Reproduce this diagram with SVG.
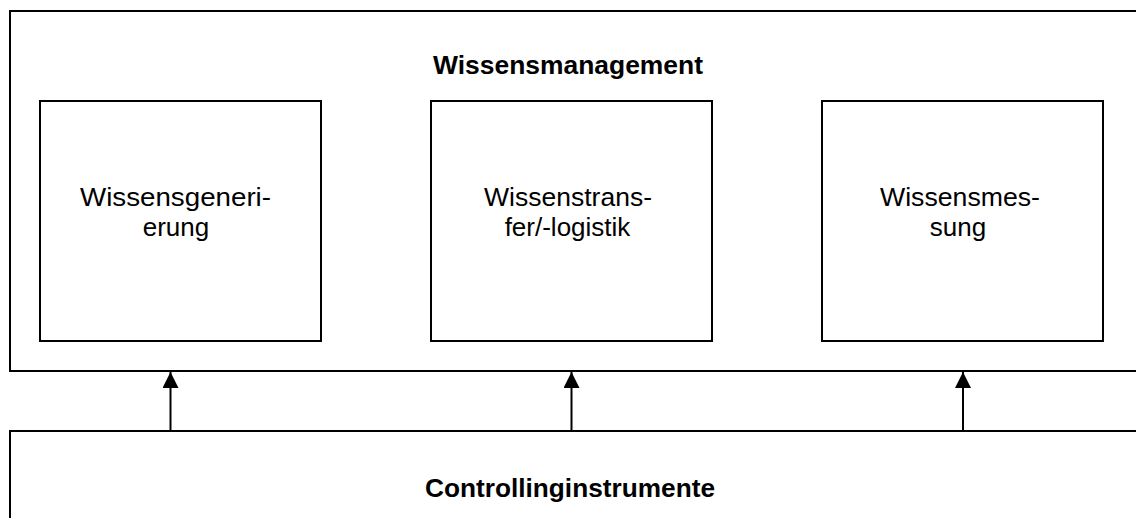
<svg xmlns="http://www.w3.org/2000/svg" width="1136" height="518" viewBox="0 0 1136 518">
<style>
.box{fill:#fff;stroke:#000;stroke-width:2}
.t{font-family:"Liberation Sans",Arial,sans-serif;font-size:26px;fill:#000;text-anchor:middle}
.b{font-weight:bold;font-size:25px}
.c{stroke:#000;stroke-width:2;fill:none}
</style>
<defs>
<marker id="ah" markerWidth="16" markerHeight="16" viewBox="0 0 16 16" refX="16" refY="8" orient="auto" markerUnits="userSpaceOnUse">
<path d="M0,0 L16,8 L0,16 Z" fill="#000"/>
</marker>
</defs>
<rect width="1136" height="518" fill="#fff"/>
<g id="wissensmanagement">
<rect class="box" x="10" y="11" width="1140" height="360"/>
<text class="t b" x="568" y="74" textLength="270" lengthAdjust="spacingAndGlyphs">Wissensmanagement</text>
</g>
<g id="wissensgenerierung">
<rect class="box" x="40" y="101" width="281" height="240"/>
<text class="t" x="175.5" y="206" textLength="191" lengthAdjust="spacingAndGlyphs">Wissensgeneri-</text>
<text class="t" x="176" y="236">erung</text>
</g>
<g id="wissenstransfer">
<rect class="box" x="431" y="101" width="281" height="240"/>
<text class="t" x="568" y="206" textLength="168" lengthAdjust="spacingAndGlyphs">Wissenstrans-</text>
<text class="t" x="567.5" y="236">fer/-logistik</text>
</g>
<g id="wissensmessung">
<rect class="box" x="822" y="101" width="281" height="240"/>
<text class="t" x="960" y="206" textLength="160" lengthAdjust="spacingAndGlyphs">Wissensmes-</text>
<text class="t" x="958" y="236">sung</text>
</g>
<g id="controllinginstrumente">
<rect class="box" x="10" y="431" width="1140" height="100"/>
<text class="t b" x="570" y="497" textLength="290" lengthAdjust="spacingAndGlyphs">Controllinginstrumente</text>
</g>
<g id="connectors">
<line class="c" x1="170.5" y1="431" x2="170.5" y2="372" marker-end="url(#ah)"/>
<line class="c" x1="571.5" y1="431" x2="571.5" y2="372" marker-end="url(#ah)"/>
<line class="c" x1="963" y1="431" x2="963" y2="372" marker-end="url(#ah)"/>
</g>
</svg>
